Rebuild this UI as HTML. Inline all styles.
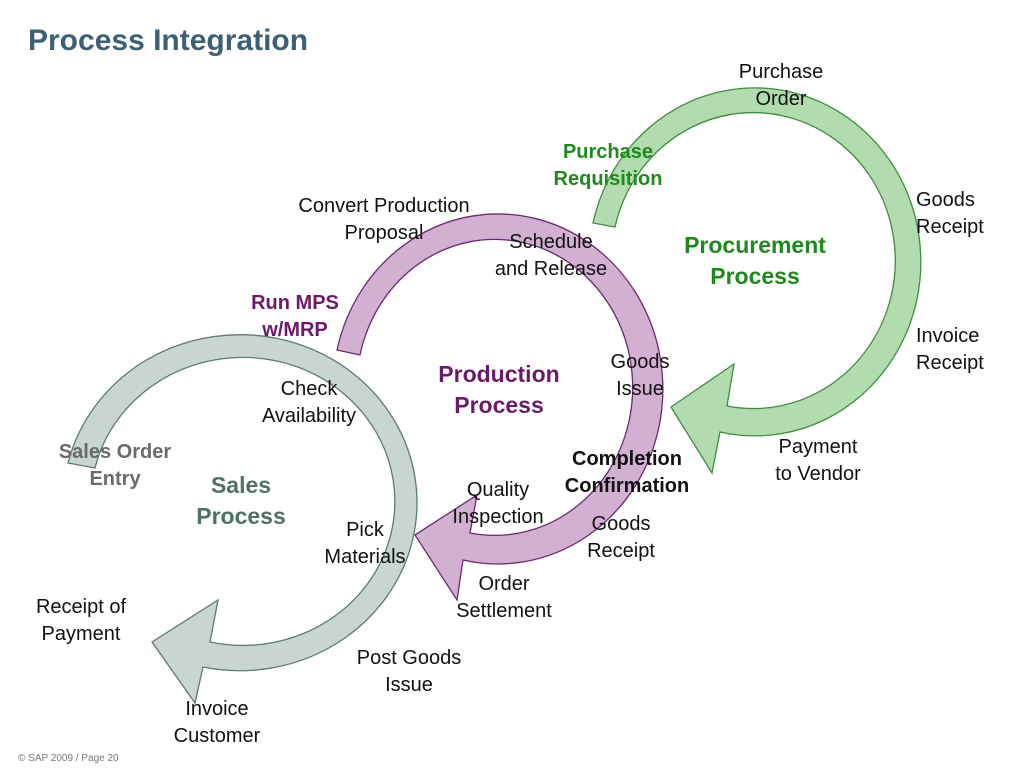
<!DOCTYPE html>
<html><head><meta charset="utf-8"><style>
body{margin:0;width:1024px;height:768px;background:#fff;position:relative;overflow:hidden;font-family:"Liberation Sans",Arial,sans-serif;}
.t{position:absolute;width:300px;text-align:center;font-size:20px;line-height:27px;color:#111;}
.b{font-weight:bold;}
.big{font-size:23px;line-height:31px;font-weight:bold;}
</style></head><body>
<svg width="1024" height="768" style="position:absolute;left:0;top:0">
<path d="M593 223 A166 174 0 1 1 720 432 L712 473 L671 407 L734 364 L727 406 A142 148 0 1 0 615 227 Z" fill="#b3dbb0" stroke="#3e8e3e" stroke-width="1.3"/>
<path d="M337 350 A165 175 0 1 1 463 560 L457 600 L415 535 L477 495 L470 533 A138 148 0 1 0 360 355 Z" fill="#d2b0d2" stroke="#6b2a6b" stroke-width="1.3"/>
<path d="M68 463 A177 168 0 1 1 203 667 L195 703 L152 642 L218 600 L210 642 A152 144 0 1 0 95 468 Z" fill="#c9d5d0" stroke="#5e7b6f" stroke-width="1.3"/>
</svg>
<div style="position:absolute;left:28px;top:24px;font-size:30px;font-weight:bold;color:#3d6074;">Process Integration</div>
<div class="t" style="left:631px;top:59px">Purchase<br>Order</div>
<div class="t b" style="left:458px;top:139px;color:#1e8a1e">Purchase<br>Requisition</div>
<div class="t" style="left:916px;top:187px;text-align:left">Goods<br>Receipt</div>
<div class="t big" style="left:605px;top:230px;color:#1e8a1e">Procurement<br>Process</div>
<div class="t" style="left:916px;top:323px;text-align:left">Invoice<br>Receipt</div>
<div class="t" style="left:668px;top:434px">Payment<br>to Vendor</div>
<div class="t" style="left:234px;top:193px">Convert Production<br>Proposal</div>
<div class="t" style="left:401px;top:229px">Schedule<br>and Release</div>
<div class="t b" style="left:145px;top:290px;color:#6b1a6b">Run MPS<br>w/MRP</div>
<div class="t" style="left:490px;top:349px">Goods<br>Issue</div>
<div class="t big" style="left:349px;top:359px;color:#6b1a6b">Production<br>Process</div>
<div class="t" style="left:159px;top:376px">Check<br>Availability</div>
<div class="t b" style="left:-35px;top:439px;color:#6b6b6b">Sales Order<br>Entry</div>
<div class="t big" style="left:91px;top:470px;color:#4f7167">Sales<br>Process</div>
<div class="t b" style="left:477px;top:446px">Completion<br>Confirmation</div>
<div class="t" style="left:348px;top:477px">Quality<br>Inspection</div>
<div class="t" style="left:471px;top:511px">Goods<br>Receipt</div>
<div class="t" style="left:215px;top:517px">Pick<br>Materials</div>
<div class="t" style="left:354px;top:571px">Order<br>Settlement</div>
<div class="t" style="left:-69px;top:594px">Receipt of<br>Payment</div>
<div class="t" style="left:259px;top:645px">Post Goods<br>Issue</div>
<div class="t" style="left:67px;top:696px">Invoice<br>Customer</div>
<div style="position:absolute;left:18px;top:753px;font-size:10px;color:#777">© SAP 2009 / Page 20</div>
</body></html>
